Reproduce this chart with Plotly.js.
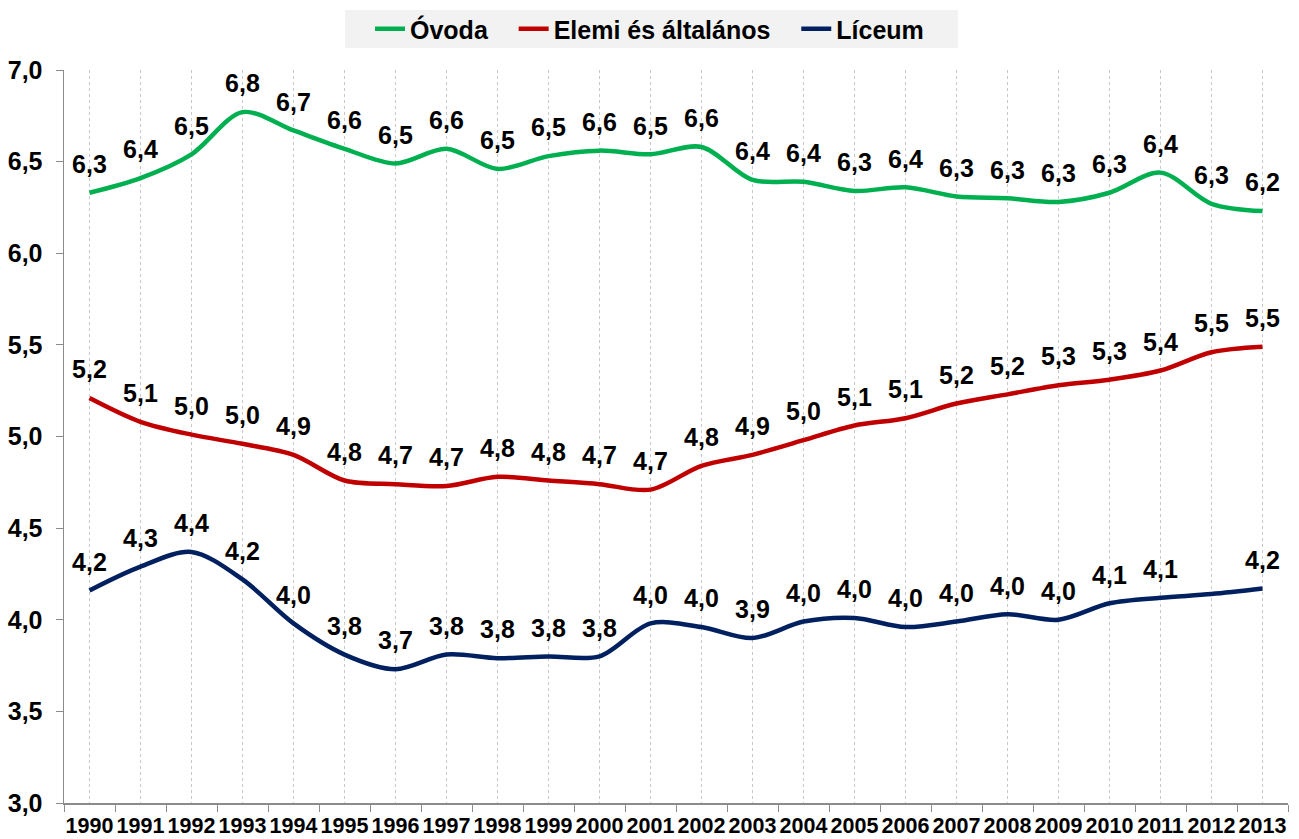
<!DOCTYPE html>
<html><head><meta charset="utf-8">
<script src="https://cdn.plot.ly/plotly-3.0.1.min.js"></script>
<style>html,body{margin:0;padding:0;background:#fff}#chart{width:1299px;height:839px}</style>
</head><body><div id="chart"></div>
<script>
const years = ['1990','1991','1992','1993','1994','1995','1996','1997','1998','1999','2000','2001','2002','2003','2004','2005','2006','2007','2008','2009','2010','2011','2012','2013'];
const ovoda = [6.33,6.41,6.54,6.77,6.67,6.57,6.49,6.57,6.46,6.53,6.56,6.54,6.58,6.40,6.39,6.34,6.36,6.31,6.30,6.28,6.33,6.44,6.27,6.23];
const elemi = [5.21,5.08,5.01,4.96,4.90,4.76,4.74,4.73,4.78,4.76,4.74,4.71,4.84,4.90,4.98,5.06,5.10,5.18,5.23,5.28,5.31,5.36,5.46,5.49];
const liceum = [4.16,4.29,4.37,4.22,3.98,3.81,3.73,3.81,3.79,3.80,3.80,3.98,3.96,3.90,3.99,4.01,3.96,3.99,4.03,4.00,4.09,4.12,4.14,4.17];
const hiddenLabels = {'Líceum': ['2012']};

const xs = years.map((_, i) => i);
function labels(name, vals) {
  const hide = hiddenLabels[name] || [];
  return vals.map((v, i) => hide.includes(years[i]) ? '' : v.toFixed(1).replace('.', ','));
}
const NB = '\u00a0';
function tr(name, vals, color, pad) {
  return {
    x: xs, y: vals, name: name + NB.repeat(pad), type: 'scatter', mode: 'lines+markers+text',
    line: {color: color, width: 4.5, shape: 'spline', smoothing: 0.9},
    marker: {size: 20, color: 'rgba(0,0,0,0)', line: {width: 0}},
    text: labels(name, vals), textposition: 'top center',
    textfont: {family: 'Liberation Sans, Arial, sans-serif', size: 25, color: '#000', weight: 'bold'},
    cliponaxis: false, hoverinfo: 'none'
  };
}
const data = [tr('Óvoda', ovoda, '#00b050', 3), tr('Elemi és általános', elemi, '#c00000', 3), tr('Líceum', liceum, '#002060', 0)];
const boundaries = [];
for (let i = 0; i <= years.length; i++) boundaries.push(i - 0.5);
const layout = {
  width: 1299, height: 839,
  margin: {l: 64, r: 11, t: 70, b: 36},
  paper_bgcolor: '#fff', plot_bgcolor: '#fff',
  separators: ', ',
  font: {family: 'Liberation Sans, Arial, sans-serif', color: '#000'},
  showlegend: true,
  legend: {orientation: 'h', xref: 'container', x: 370/1299, xanchor: 'left', yref: 'container', y: 1 - 29/839, yanchor: 'middle',
    bgcolor: 'rgba(0,0,0,0)', font: {size: 25, weight: 'bold', color: '#000'}, itemwidth: 30, tracegroupgap: 0},
  shapes: [{type: 'rect', xref: 'paper', yref: 'paper', x0: (345-64)/1224, x1: (958-64)/1224,
    y0: (803-48)/733, y1: (803-10)/733, fillcolor: '#f2f2f2', line: {width: 0}, layer: 'below'}],
  xaxis: {
    range: [-0.5, 23.5], tickmode: 'array', tickvals: xs, ticktext: years, ticks: '',
    tickfont: {size: 21.5, weight: 'bold'}, ticklabelstandoff: 3,
    showgrid: true, gridcolor: '#c8c8c8', griddash: 'dot', gridwidth: 1,
    showline: true, linecolor: '#8c8c8c', linewidth: 1.5, zeroline: false,
    minor: {tickmode: 'array', tickvals: boundaries, ticks: 'outside', ticklen: 7, tickcolor: '#8c8c8c', showgrid: false}
  },
  yaxis: {
    range: [3, 7], tickmode: 'array', tickvals: [3,3.5,4,4.5,5,5.5,6,6.5,7],
    tickformat: '.1f', ticks: 'outside', ticklen: 7, tickcolor: '#8c8c8c', ticklabelstandoff: 8,
    tickfont: {size: 25, weight: 'bold'}, showgrid: false,
    showline: true, linecolor: '#8c8c8c', linewidth: 1.5, zeroline: false
  }
};
Plotly.newPlot('chart', data, layout, {displayModeBar: false, staticPlot: true});
</script></body></html>
